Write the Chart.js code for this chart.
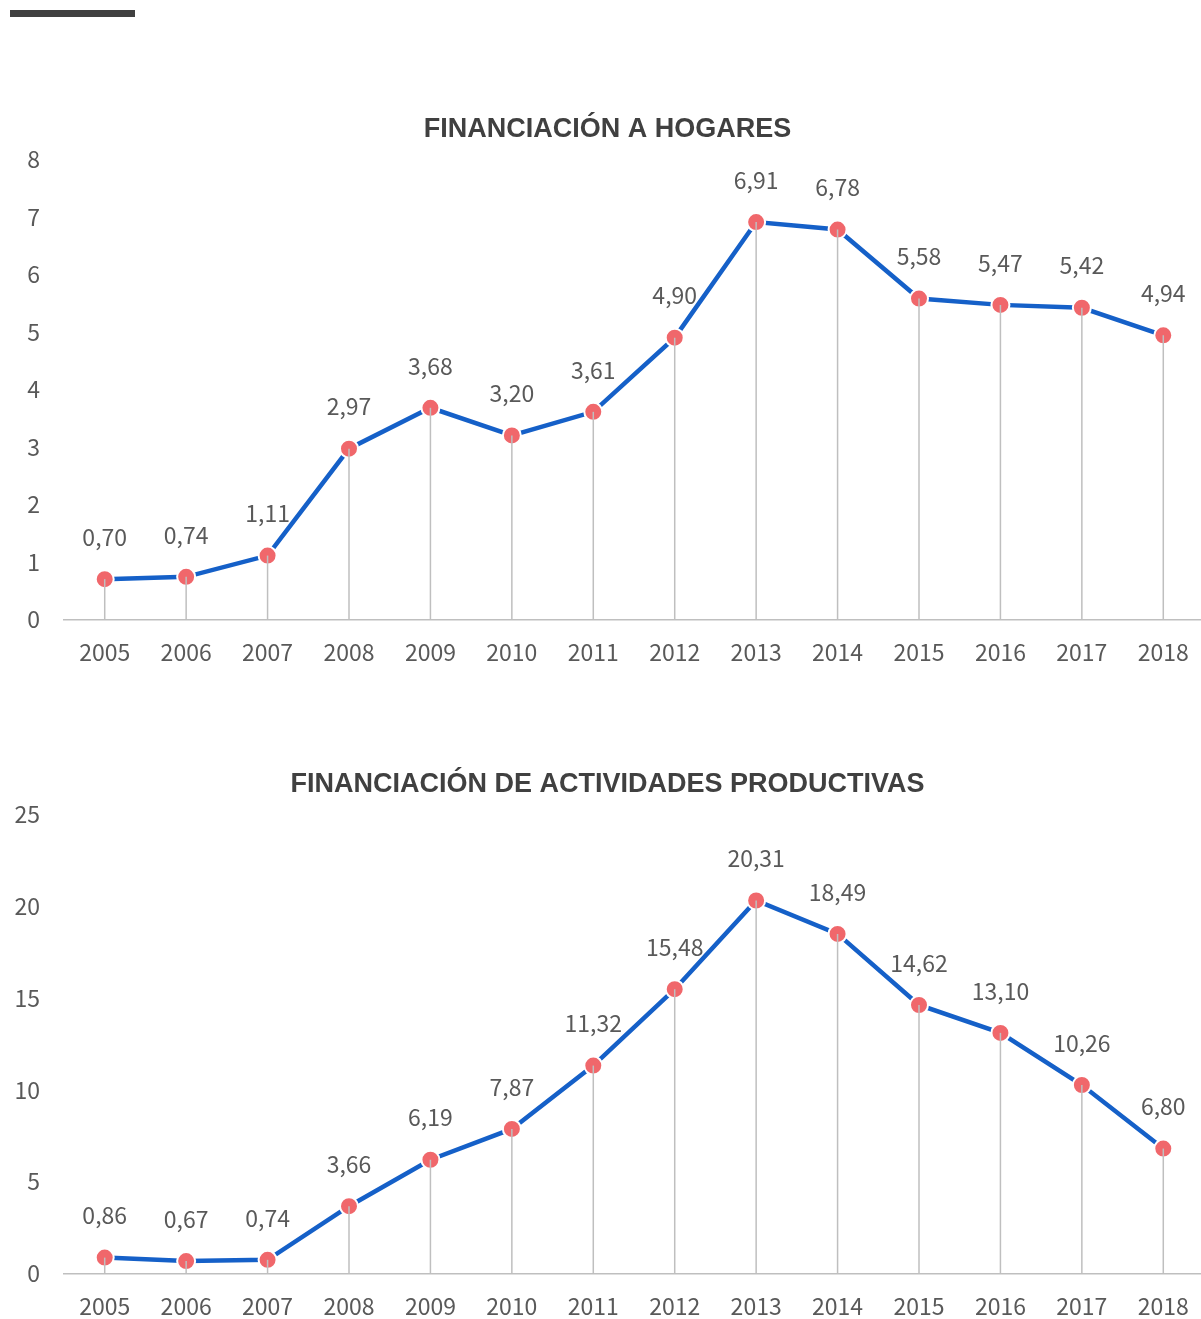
<!DOCTYPE html>
<html>
<head>
<meta charset="utf-8">
<script src="https://cdn.jsdelivr.net/npm/chart.js@4.4.0/dist/chart.umd.min.js"></script>
<style>
  html, body { margin: 0; padding: 0; background: #fff; overflow: hidden; }
  #page { position: relative; width: 1201px; height: 1319px; overflow: hidden; }
  #barra { position: absolute; left: 10px; top: 10px; width: 125px; height: 7px; background: #404040; }
  .caja { position: absolute; left: 0; width: 1215px; }
  #caja1 { top: 100px; height: 577px; }
  #caja2 { top: 755px; height: 576px; }
</style>
</head>
<body>
<div id="page">
  <div id="barra"></div>
  <div class="caja" id="caja1"><canvas id="grafica1" width="1215" height="577"></canvas></div>
  <div class="caja" id="caja2"><canvas id="grafica2" width="1215" height="576"></canvas></div>
</div>
<script>
const years = ['2005', '2006', '2007', '2008', '2009', '2010', '2011', '2012', '2013', '2014', '2015', '2016', '2017', '2018'];
const hogares = [0.70, 0.74, 1.11, 2.97, 3.68, 3.20, 3.61, 4.90, 6.91, 6.78, 5.58, 5.47, 5.42, 4.94];
const productivas = [0.86, 0.67, 0.74, 3.66, 6.19, 7.87, 11.32, 15.48, 20.31, 18.49, 14.62, 13.10, 10.26, 6.80];
const hogaresTicks = [0, 1, 2, 3, 4, 5, 6, 7, 8];
const productivasTicks = [0, 5, 10, 15, 20, 25];

const numFont = '"Noto Sans CJK JP", "Noto Sans", sans-serif';
const textColor = '#595959';
const lineColor = '#1560C8';
const pointColor = '#F0676B';
const axisColor = '#BFBFBF';

// drop lines + value labels
const dropLines = {
  id: 'dropLines',
  afterDatasetsDraw(chart) {
    const ctx = chart.ctx;
    const meta = chart.getDatasetMeta(0);
    const data = chart.data.datasets[0].data;
    const y0 = chart.scales.y.getPixelForValue(0);
    ctx.save();
    ctx.strokeStyle = axisColor;
    ctx.lineWidth = 1.5;
    meta.data.forEach(p => {
      ctx.beginPath();
      ctx.moveTo(p.x, p.y);
      ctx.lineTo(p.x, y0);
      ctx.stroke();
    });
    ctx.fillStyle = textColor;
    ctx.font = '23px ' + numFont;
    ctx.textAlign = 'center';
    ctx.textBaseline = 'middle';
    meta.data.forEach((p, i) => {
      ctx.fillText(data[i].toFixed(2).replace('.', ','), p.x, p.y - 42);
    });
    ctx.restore();
  }
};

function makeChart(id, title, values, ticks) {
  const step = ticks[1] - ticks[0];
  return new Chart(document.getElementById(id), {
    type: 'line',
    data: {
      labels: years,
      datasets: [{
        data: values,
        borderColor: lineColor,
        borderWidth: 4.5,
        pointBackgroundColor: pointColor,
        pointBorderColor: '#ffffff',
        pointBorderWidth: 2,
        pointRadius: 9,
        pointHoverRadius: 9,
        tension: 0,
        fill: false,
        clip: false
      }]
    },
    options: {
      responsive: false,
      animation: false,
      layout: { padding: 0 },
      plugins: {
        legend: { display: false },
        tooltip: { enabled: false },
        title: {
          display: true,
          text: title,
          color: '#404040',
          font: { family: '"Liberation Sans", Arial, sans-serif', size: 27, weight: 'bold' },
          padding: { top: 13, bottom: 14 }
        }
      },
      scales: {
        x: {
          offset: true,
          grid: { display: false },
          border: { display: true, color: axisColor, width: 1.5 },
          ticks: { color: textColor, font: { family: numFont, size: 23 }, padding: 11, maxRotation: 0 }
        },
        y: {
          min: ticks[0],
          max: ticks[ticks.length - 1],
          afterFit: s => { s.width = 64; },
          grid: { display: false },
          border: { display: false },
          ticks: { stepSize: step, color: textColor, font: { family: numFont, size: 23 }, padding: 16 }
        }
      }
    },
    plugins: [dropLines]
  });
}

makeChart('grafica1', 'FINANCIACIÓN A HOGARES', hogares, hogaresTicks);
makeChart('grafica2', 'FINANCIACIÓN DE ACTIVIDADES PRODUCTIVAS', productivas, productivasTicks);
</script>
</body>
</html>
